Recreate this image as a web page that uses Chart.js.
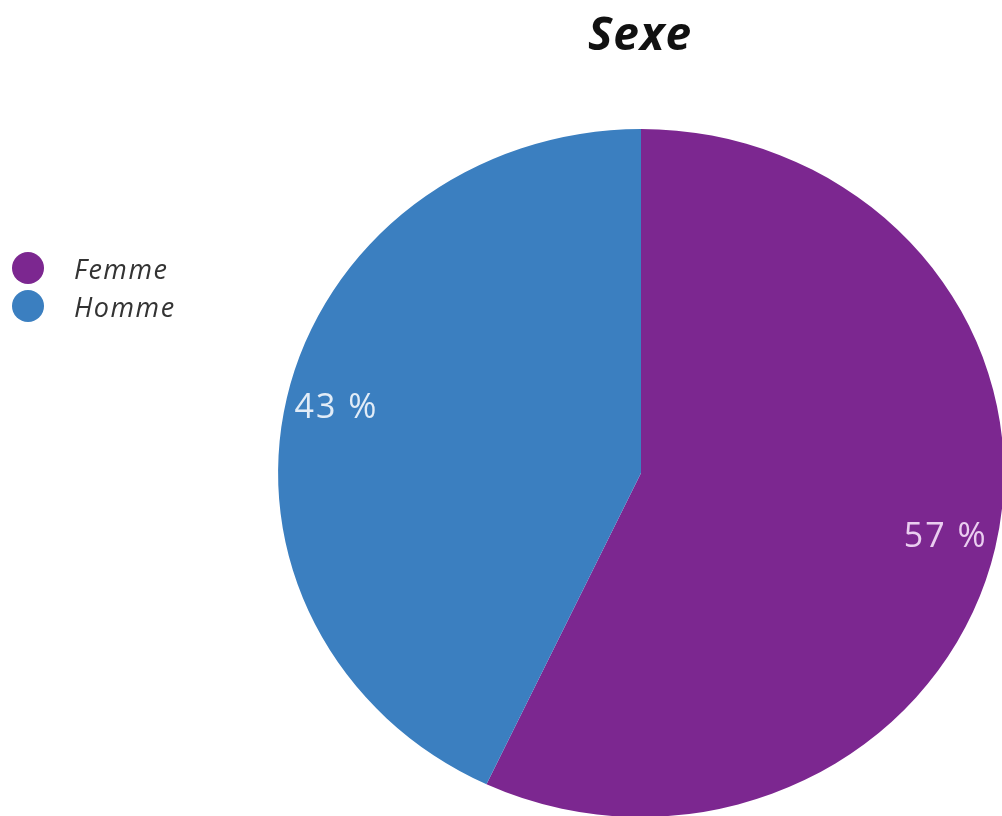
<!DOCTYPE html>
<html>
<head>
<meta charset="utf-8">
<script src="https://cdn.jsdelivr.net/npm/chart.js@4/dist/chart.umd.min.js"></script>
<style>
  html,body{margin:0;padding:0;background:#fff;overflow:hidden;}
  #wrap{position:absolute;left:0;top:0;width:1002px;height:830px;}
  #title{position:absolute;left:0;width:1280px;top:1px;text-align:center;font-family:"Open Sans",sans-serif;font-weight:700;font-style:italic;font-size:46px;letter-spacing:1px;color:#111;}
  #legend{position:absolute;left:12px;top:249px;font-family:"Open Sans",sans-serif;font-style:italic;font-size:27px;letter-spacing:1.5px;color:#333;}
  #legend .item{display:flex;align-items:center;height:38px;}
  #legend .dot{width:32px;height:32px;border-radius:50%;margin-right:30px;}
</style>
</head>
<body>
<div id="wrap"><canvas id="c"></canvas></div>
<div id="title"></div>
<div id="legend"></div>
<script>
const titleText = "Sexe";
const categories = ["Femme", "Homme"];
const values = [57, 43];
const valueLabels = ["57 %", "43 %"];
const colors = ["#7c2790", "#3b7fc0"];

document.getElementById('title').textContent = titleText;
const lg = document.getElementById('legend');
categories.forEach((c,i)=>{
  const it=document.createElement('div');it.className='item';
  const d=document.createElement('div');d.className='dot';d.style.background=colors[i];
  const t=document.createElement('span');t.textContent=c;
  it.appendChild(d);it.appendChild(t);lg.appendChild(it);
});

const SX = 1.055;
const stretch = {
  id:'stretch',
  beforeDatasetsDraw(chart){
    const a=chart.getDatasetMeta(0).data[0];
    const ctx=chart.ctx;ctx.save();
    ctx.translate(a.x,a.y);ctx.scale(SX,1);ctx.translate(-a.x,-a.y);
  },
  afterDatasetsDraw(chart){
    const ctx=chart.ctx;ctx.restore();
    const meta=chart.getDatasetMeta(0);
    ctx.save();
    ctx.font='34px "Open Sans", sans-serif';
    try{ctx.letterSpacing='2px';}catch(e){}
    ctx.textAlign='center';ctx.textBaseline='middle';
    meta.data.forEach((arc,i)=>{
      const mid=(arc.startAngle+arc.endAngle)/2;
      const r=arc.outerRadius*0.86;
      const x=arc.x+Math.cos(mid)*r*SX, y=arc.y+Math.sin(mid)*r;
      ctx.fillStyle= i===0 ? 'rgba(240,215,245,0.95)' : 'rgba(235,242,250,0.95)';
      ctx.fillText(valueLabels[i], x, y);
    });
    ctx.restore();
  }
};

new Chart(document.getElementById('c'), {
  type:'pie',
  data:{labels:categories,datasets:[{data:values,backgroundColor:colors,borderWidth:0}]},
  options:{
    responsive:true,maintainAspectRatio:false,animation:false,
    layout:{padding:{left:297,right:17,top:129,bottom:13}},
    plugins:{legend:{display:false},title:{display:false},tooltip:{enabled:false}}
  },
  plugins:[stretch]
});
</script>
</body>
</html>
